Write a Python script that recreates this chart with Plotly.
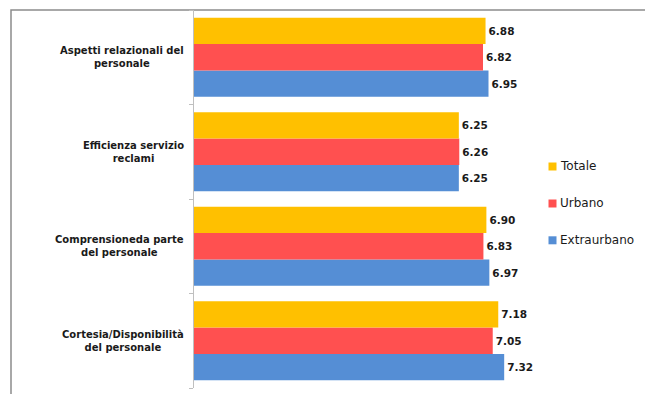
import plotly.graph_objects as go

categories = [
    "Aspetti relazionali del<br>personale",
    "Efficienza servizio<br>reclami",
    "Comprensioneda parte<br>del personale",
    "Cortesia/Disponibilità<br>del personale",
]
series_names = ["Totale", "Urbano", "Extraurbano"]
totale = [6.88, 6.25, 6.90, 7.18]
urbano = [6.82, 6.26, 6.83, 7.05]
extraurbano = [6.95, 6.25, 6.97, 7.32]
colors = ["#FFC000", "#FF5050", "#558ED5"]
values = [totale, urbano, extraurbano]

FONT = "DejaVu Sans"
W, H = 645, 394
L, R, T, B = 194, 112, 10, 6

fig = go.Figure()
# add bottom-most series first so Totale is on top within each group
for name, vals, col in reversed(list(zip(series_names, values, colors))):
    fig.add_trace(go.Bar(
        y=categories, x=vals, name=name, orientation="h",
        marker=dict(color=col, line=dict(width=0)),
        texttemplate="%{x:.2f}", textposition="outside",
        textfont=dict(family=FONT, size=10.5, color="#1a1a1a", weight="bold"),
        cliponaxis=False, showlegend=False,
    ))

fig.update_layout(
    width=W, height=H,
    margin=dict(l=L, r=R, t=T, b=B),
    paper_bgcolor="white", plot_bgcolor="white",
    barmode="group", bargap=0.165, bargroupgap=0,
    xaxis=dict(range=[0, 8], showgrid=False, showticklabels=False,
               zeroline=False, showline=False, ticks=""),
    yaxis=dict(categoryorder="array", categoryarray=categories[::-1],
               showticklabels=False, showgrid=False, zeroline=False,
               showline=True, linecolor="#BFBFBF", linewidth=1,
               ticks="outside", ticklen=4, tickcolor="#BFBFBF",
               tickson="boundaries"),
    font=dict(family=FONT),
)

# category labels (centered multi-line)
for c in categories:
    fig.add_annotation(x=0, y=c, xref="paper", yref="y", text=c,
                       showarrow=False, xanchor="right", xshift=-8,
                       align="center",
                       font=dict(family=FONT, size=10, color="#1a1a1a",
                                 weight="bold"))

# outer frame
pw, ph = W - L - R, H - T - B
def px(x):
    return (x - L) / pw
def py(y):
    return 1 - (y - T) / ph
fig.add_shape(type="rect", xref="paper", yref="paper",
              x0=px(11), x1=px(700), y0=py(10), y1=py(450),
              line=dict(color="#8C8C8C", width=1.5), layer="below")

# legend drawn manually
leg_y = [166.5, 203.5, 240.3]
for name, col, yy in zip(series_names, colors, leg_y):
    fig.add_shape(type="rect", xref="paper", yref="paper",
                  x0=px(548.5), x1=px(556.5), y0=py(yy - 4), y1=py(yy + 4),
                  fillcolor=col, line=dict(width=0))
    fig.add_annotation(x=px(557.5), y=py(yy), xref="paper", yref="paper",
                       text=name, showarrow=False, xanchor="left",
                       yanchor="middle",
                       font=dict(family=FONT, size=12, color="#1a1a1a"))

fig.write_html("out.html")
